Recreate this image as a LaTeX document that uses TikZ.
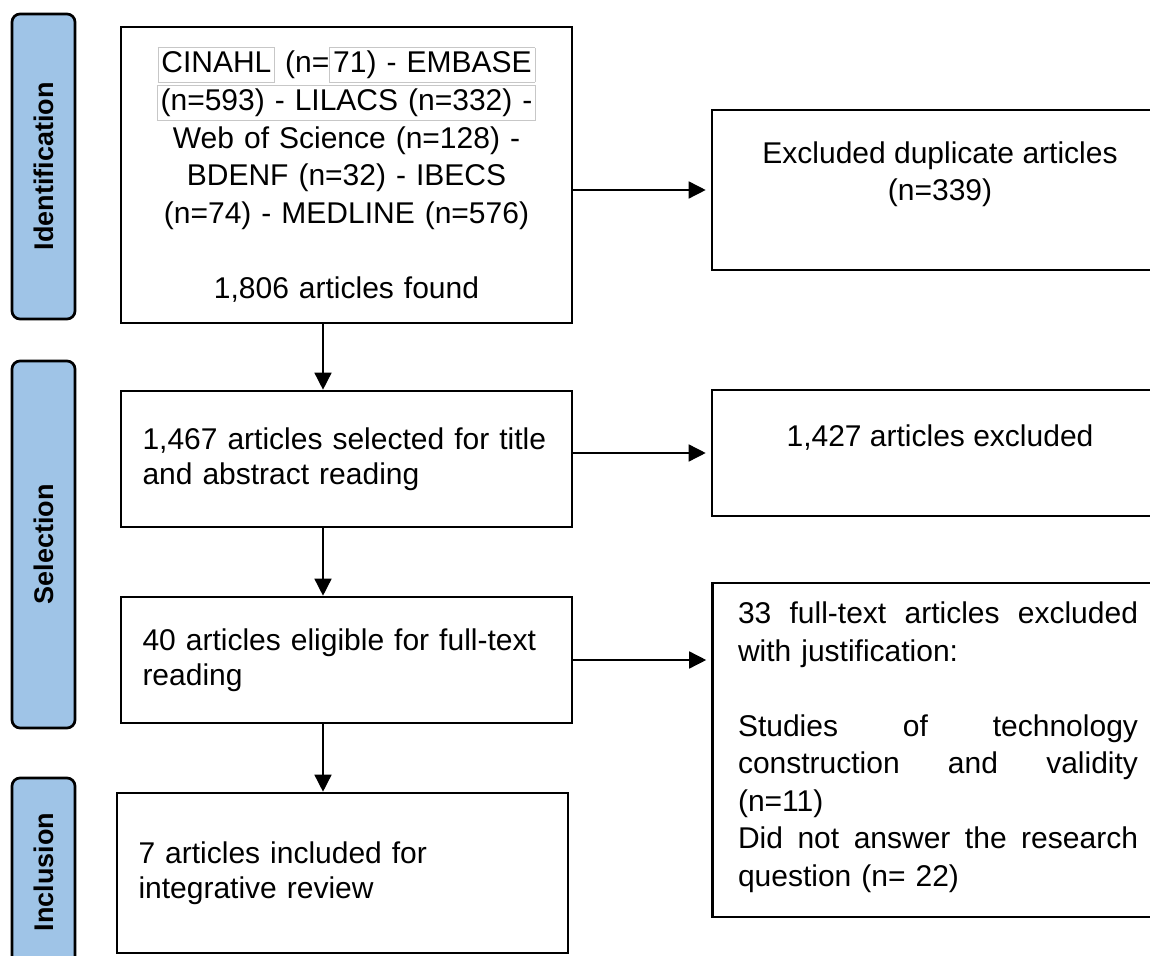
\documentclass[tikz,border=0pt]{standalone}
\usepackage{fontspec}
\setmainfont{Liberation Sans}
\usepackage{tikz}
\usetikzlibrary{arrows.meta,calc}

\definecolor{phaseblue}{HTML}{9FC4E7}
% thin grey frame as in the source document
\newcommand{\fieldbox}[1]{{\setlength\fboxsep{1.5pt}\setlength\fboxrule{0.4pt}\fcolorbox{black!22}{white}{\vphantom{()}#1}}}
% one justified line of the exclusion list
\newcommand{\fullline}[1]{\makebox[200pt][l]{#1}}

\begin{document}
\begin{tikzpicture}[x=0.5pt,y=-0.5pt,
    phase/.style={draw=black,line width=1.35pt,fill=phaseblue,rounded corners=4pt,rotate=90,
        minimum height=31.5pt,inner sep=0pt,font=\fontsize{13.5}{16}\selectfont\bfseries},
    stage/.style={draw=black,line width=1.3pt,minimum width=225.5pt,inner xsep=10.75pt,inner ysep=0pt,
        text width=204pt,align=left,font=\fontsize{15}{17.5}\selectfont},
    outbox/.style={draw=black,line width=1.3pt,minimum width=228pt,inner sep=0pt},
    outtext/.style={inner sep=0pt,font=\fontsize{15}{18.75}\selectfont},
    flow/.style={line width=0.75pt,-{Triangle[length=8.5pt,width=8.5pt]}}]

    \useasboundingbox (0,0) rectangle (1150,956);
    \clip (0,0) rectangle (1150,956);

    % phases on the left
    \node[phase,minimum width=152.5pt] (ident) at (43.5,166.5) {Identification};
    \node[phase,minimum width=183.5pt] (select) at (43.5,544.5) {Selection};
    \node[phase,minimum width=94pt] (incl) at (43.5,872) {Inclusion};

    % main column
    \node[stage,minimum height=148pt,align=center,font=\fontsize{15}{18.85}\selectfont] (found) at (346.5,175)
        {\fieldbox{CINAHL} (n=\fieldbox{71) - EMBASE}\\
         \fieldbox{(n=593) - LILACS (n=332) -}\\
         Web of Science (n=128) -\\
         BDENF (n=32) - IBECS\\
         (n=74) - MEDLINE (n=576)\\[18.85pt]
         1,806 articles found\\[-6pt]};
    \node[stage,minimum height=68pt] (screen) at (346.5,459) {1,467 articles selected for title\\ and abstract reading};
    \node[stage,minimum height=63pt] (elig) at (346.5,660) {40 articles eligible for full-text\\ reading};
    \node[stage,minimum height=80pt] (review) at (342.5,873) {7 articles included for\\ integrative review};

    % excluded column
    \node[outbox,minimum height=80pt] (dup) at (940,190) {};
    \node[outtext,align=center] (dupText) at (940,174) {Excluded duplicate articles\\ (n=339)};
    \node[outbox,minimum height=63pt] (excl) at (940,453) {};
    \node[outtext] (exclText) at (940,438) {1,427 articles excluded};
    \node[outbox,minimum height=167pt] (fulltext) at (940.5,750) {};
    \node[outtext,text width=200pt,align=left] (fulltextText) at (938,747)
        {\fullline{33\hfill full-text\hfill articles\hfill excluded}\\
         with justification:\\[18.75pt]
         \fullline{Studies\hfill of\hfill technology}\\
         \fullline{construction\hfill and\hfill validity}\\
         (n=11)\\
         \fullline{Did\hfill not\hfill answer\hfill the\hfill research}\\
         question (n= 22)};

    % arrows
    \coordinate (spine) at (323,0);
    \draw[flow] (found.south -| spine) -- (screen.north -| spine);
    \draw[flow] (screen.south -| spine) -- (elig.north -| spine);
    \draw[flow] (elig.south -| spine) -- (review.north -| spine);

    \draw[flow,shorten >=2.5pt] (found.east |- dup.west) -- (dup.west);
    \draw[flow,shorten >=2.5pt] (screen.east |- excl.west) -- (excl.west);
    \draw[flow,shorten >=2.5pt] (elig.east) -- (elig.east -| fulltext.west);

\end{tikzpicture}
\end{document}
